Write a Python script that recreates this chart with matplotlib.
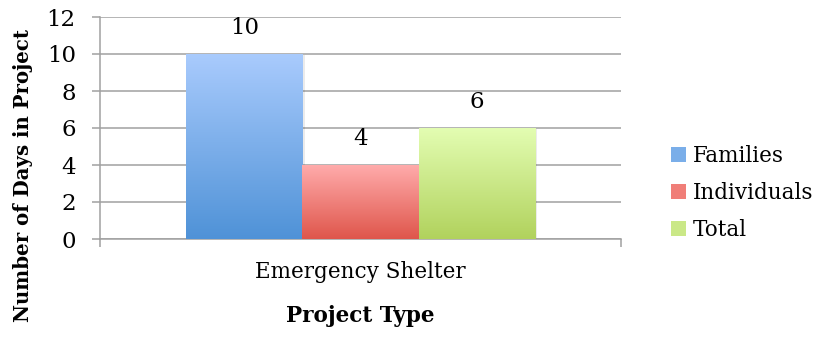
import numpy as np
import matplotlib
matplotlib.use('Agg')
import matplotlib.pyplot as plt
from matplotlib.colors import LinearSegmentedColormap
from matplotlib.patches import Patch, Rectangle

categories = ['Emergency Shelter']
series = ['Families', 'Individuals', 'Total']
values = [10, 4, 6]
yticks = [0, 2, 4, 6, 8, 10, 12]

# gradient top -> bottom for each series
grad_colors = [('#A9CBFD', '#4F92D7'), ('#FFABAB', '#DF564B'), ('#E3FDB2', '#B1D25D')]
mid_colors = ['#7AAEE9', '#F07E78', '#CAE887']

plt.rcParams['font.family'] = ['DejaVu Serif']
FS = 15.5
NUM_FS = 16.5

fig = plt.figure(figsize=(8.31, 3.38), dpi=100)
ax = fig.add_axes([100 / 831, 1 - 239 / 338, 521 / 831, 222 / 338])

bar_w = 0.2227
offsets = [-bar_w, 0, bar_w]
grid_c = '#A0A0A0'

for i, (name, v) in enumerate(zip(series, values)):
    x = offsets[i]
    # faint shadow
    ax.add_patch(Rectangle((x - bar_w / 2 + 0.004, -0.12), bar_w, v + 0.04,
                           facecolor='#000000', alpha=0.08, edgecolor='none', zorder=2))
    bar = ax.bar(x, v, width=bar_w, color='none', edgecolor='none', zorder=3)[0]
    cmap = LinearSegmentedColormap.from_list(name, [grad_colors[i][1], grad_colors[i][0]])
    grad = np.linspace(0, 1, 256).reshape(-1, 1)
    im = ax.imshow(grad, cmap=cmap, aspect='auto', origin='lower',
                   extent=(x - bar_w / 2, x + bar_w / 2, 0, v), zorder=3)
    im.set_clip_path(bar)
    ax.annotate(str(v), (x, v), xytext=(0, 10.5), textcoords='offset points',
                ha='center', va='bottom', fontsize=NUM_FS, zorder=4)

ax.set_xlim(-0.5, 0.5)
ax.set_ylim(0, 12)
ax.set_yticks(yticks)
ax.set_xticks([0])
ax.set_xticklabels(categories, fontsize=FS)
ax.set_xticks([-0.5, 0.5], minor=True)
ax.tick_params(axis='x', which='major', length=0, pad=16)
ax.tick_params(axis='x', which='minor', length=5.5, width=1.1, color=grid_c)
ax.tick_params(axis='y', length=5.5, width=1.1, color=grid_c, labelsize=NUM_FS, pad=12)
ax.yaxis.grid(True, color=grid_c, linewidth=1.1, zorder=0)
ax.set_axisbelow(True)
for s in ['top', 'right']:
    ax.spines[s].set_visible(False)
for s in ['left', 'bottom']:
    ax.spines[s].set_color(grid_c)
    ax.spines[s].set_linewidth(1.1)

ax.set_xlabel('Project Type', fontsize=FS, fontweight='bold', labelpad=16)
fig.text(23 / 831, 1 - 176 / 338, 'Number of Days in Project', rotation=90,
         fontsize=14.2, fontweight='bold', ha='center', va='center')

handles = [Patch(facecolor=c, edgecolor='none') for c in mid_colors]
fig.legend(handles, series, loc='center left', bbox_to_anchor=(652 / 831, 1 - 193 / 338),
           frameon=False, fontsize=FS, handlelength=0.7, handleheight=0.7,
           handletextpad=0.3, labelspacing=0.68)

fig.savefig('out.png', dpi=100)
